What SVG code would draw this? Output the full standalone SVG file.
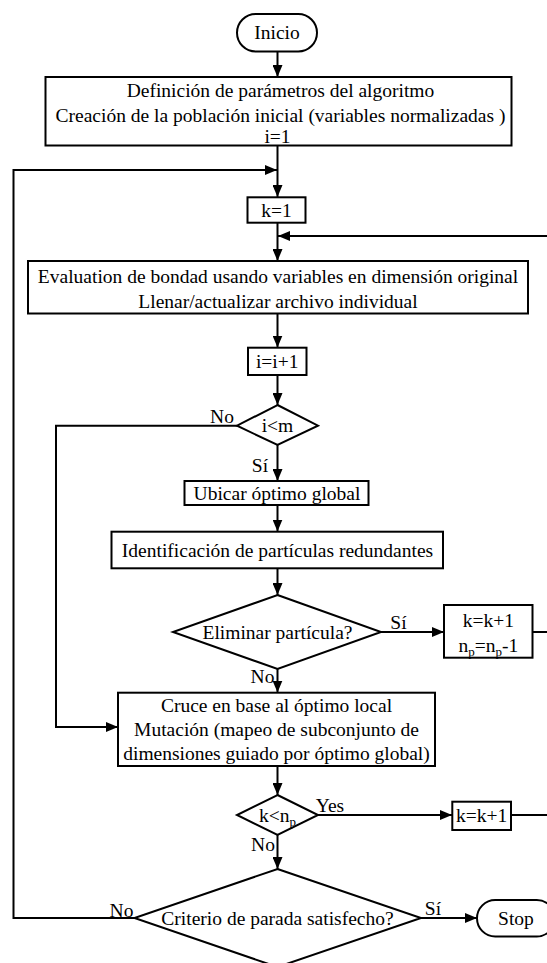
<svg xmlns="http://www.w3.org/2000/svg" width="547" height="963" viewBox="0 0 547 963">
<defs>
<style>
.box{fill:#fff;stroke:#000;stroke-width:2}
.t{font-family:"Liberation Serif","Times New Roman",serif;font-size:19.5px;text-anchor:middle;fill:#000}
.c{fill:none;stroke:#000;stroke-width:2}
.a{marker-end:url(#ah)}
.sub{font-size:13px}
</style>
<marker id="ah" markerWidth="12" markerHeight="10" refX="12" refY="5" orient="auto" markerUnits="userSpaceOnUse">
<path d="M0,0 L12,5 L0,10 z" fill="#000"/>
</marker>
</defs>
<rect width="547" height="963" fill="#fff"/>
<g id="connectors">
<path class="c a" d="M277.5,51.5 V77"/>
<path class="c a" d="M277.5,145.5 V197"/>
<path class="c a" d="M134.5,918 H13.5 V170 H277"/>
<path class="c a" d="M277.5,222.5 V261"/>
<path class="c a" d="M547,236 H278"/>
<path class="c a" d="M277.5,313.5 V347.5"/>
<path class="c a" d="M277.5,375 V405"/>
<path class="c a" d="M277.5,445 V481"/>
<path class="c a" d="M237,425.7 H56 V727 H118"/>
<path class="c a" d="M277.5,505 V531.5"/>
<path class="c a" d="M277.5,568.5 V595"/>
<path class="c a" d="M381,632 H444"/>
<path class="c" d="M532.5,632 H547"/>
<path class="c a" d="M277.5,669 V692.5"/>
<path class="c a" d="M277.5,766 V795"/>
<path class="c a" d="M318,815 H452"/>
<path class="c" d="M511,815 H547"/>
<path class="c a" d="M277.5,835 V869"/>
<path class="c a" d="M421,918 H477"/>
<text class="t" x="222" y="423">No</text>
<text class="t" x="260" y="471.5">Sí</text>
<text class="t" x="398.5" y="629">Sí</text>
<text class="t" x="262.5" y="683">No</text>
<text class="t" x="330" y="811.5">Yes</text>
<text class="t" x="263" y="850.5">No</text>
<text class="t" x="121.5" y="917">No</text>
<text class="t" x="433" y="914.5">Sí</text>
</g>
<g id="inicio">
<rect class="box" x="237" y="14" width="80" height="37.5" rx="18.75"/>
<text class="t" x="277" y="39">Inicio</text>
</g>
<g id="definicion">
<rect class="box" x="45.5" y="77" width="466" height="68.5"/>
<text class="t" x="280.5" y="96.5">Definición de parámetros del algoritmo</text>
<text class="t" x="280.5" y="121.5">Creación de la población inicial (variables normalizadas )</text>
<text class="t" x="277.5" y="143">i=1</text>
</g>
<g id="k1">
<rect class="box" x="247.5" y="197.3" width="58" height="25.4"/>
<text class="t" x="276.5" y="216.5">k=1</text>
</g>
<g id="evaluation">
<rect class="box" x="28" y="261" width="500" height="52.5"/>
<text class="t" x="278" y="283">Evaluation de bondad usando variables en dimensión original</text>
<text class="t" x="278" y="308">Llenar/actualizar archivo individual</text>
</g>
<g id="iinc">
<rect class="box" x="248" y="347.7" width="58.5" height="27.3"/>
<text class="t" x="277.2" y="368">i=i+1</text>
</g>
<g id="ilessm">
<polygon class="box" points="277.5,405 318,425.7 277.5,445 237,425.7"/>
<text class="t" x="277.5" y="432">i&lt;m</text>
</g>
<g id="ubicar">
<rect class="box" x="184.5" y="481" width="184" height="24"/>
<text class="t" x="277" y="499.5">Ubicar óptimo global</text>
</g>
<g id="identificacion">
<rect class="box" x="111.5" y="531.7" width="331.5" height="36.6"/>
<text class="t" x="277.5" y="556.5">Identificación de partículas redundantes</text>
</g>
<g id="eliminar">
<polygon class="box" points="277.5,595 381,632 277.5,669 173,632"/>
<text class="t" x="277.5" y="638.5">Eliminar partícula?</text>
</g>
<g id="kinc-np">
<rect class="box" x="444" y="605" width="88.5" height="52.7"/>
<text class="t" x="488.3" y="626.5">k=k+1</text>
<text class="t" x="488.3" y="651.5">n<tspan class="sub" dy="4">p</tspan><tspan dy="-4">=n</tspan><tspan class="sub" dy="4">p</tspan><tspan dy="-4">-1</tspan></text>
</g>
<g id="cruce">
<rect class="box" x="118" y="692.7" width="317" height="73.3"/>
<text class="t" x="276.5" y="711.5">Cruce en base al óptimo local</text>
<text class="t" x="276.5" y="735.5">Mutación (mapeo de subconjunto de</text>
<text class="t" x="276.5" y="759.5">dimensiones guiado por óptimo global)</text>
</g>
<g id="klessnp">
<polygon class="box" points="277.5,795 318,815 277.5,835 237,815"/>
<text class="t" x="277.5" y="821.5">k&lt;n<tspan class="sub" dy="4">p</tspan></text>
</g>
<g id="kinc">
<rect class="box" x="452.3" y="801.7" width="58.7" height="28.3"/>
<text class="t" x="481.6" y="822">k=k+1</text>
</g>
<g id="criterio">
<polygon class="box" points="277.5,869 421,918 277.5,967 134.5,918"/>
<text class="t" x="277.5" y="924.5">Criterio de parada satisfecho?</text>
</g>
<g id="stop">
<rect class="box" x="477" y="900" width="78" height="36.5" rx="18.25"/>
<text class="t" x="516" y="924.8">Stop</text>
</g>
</svg>
